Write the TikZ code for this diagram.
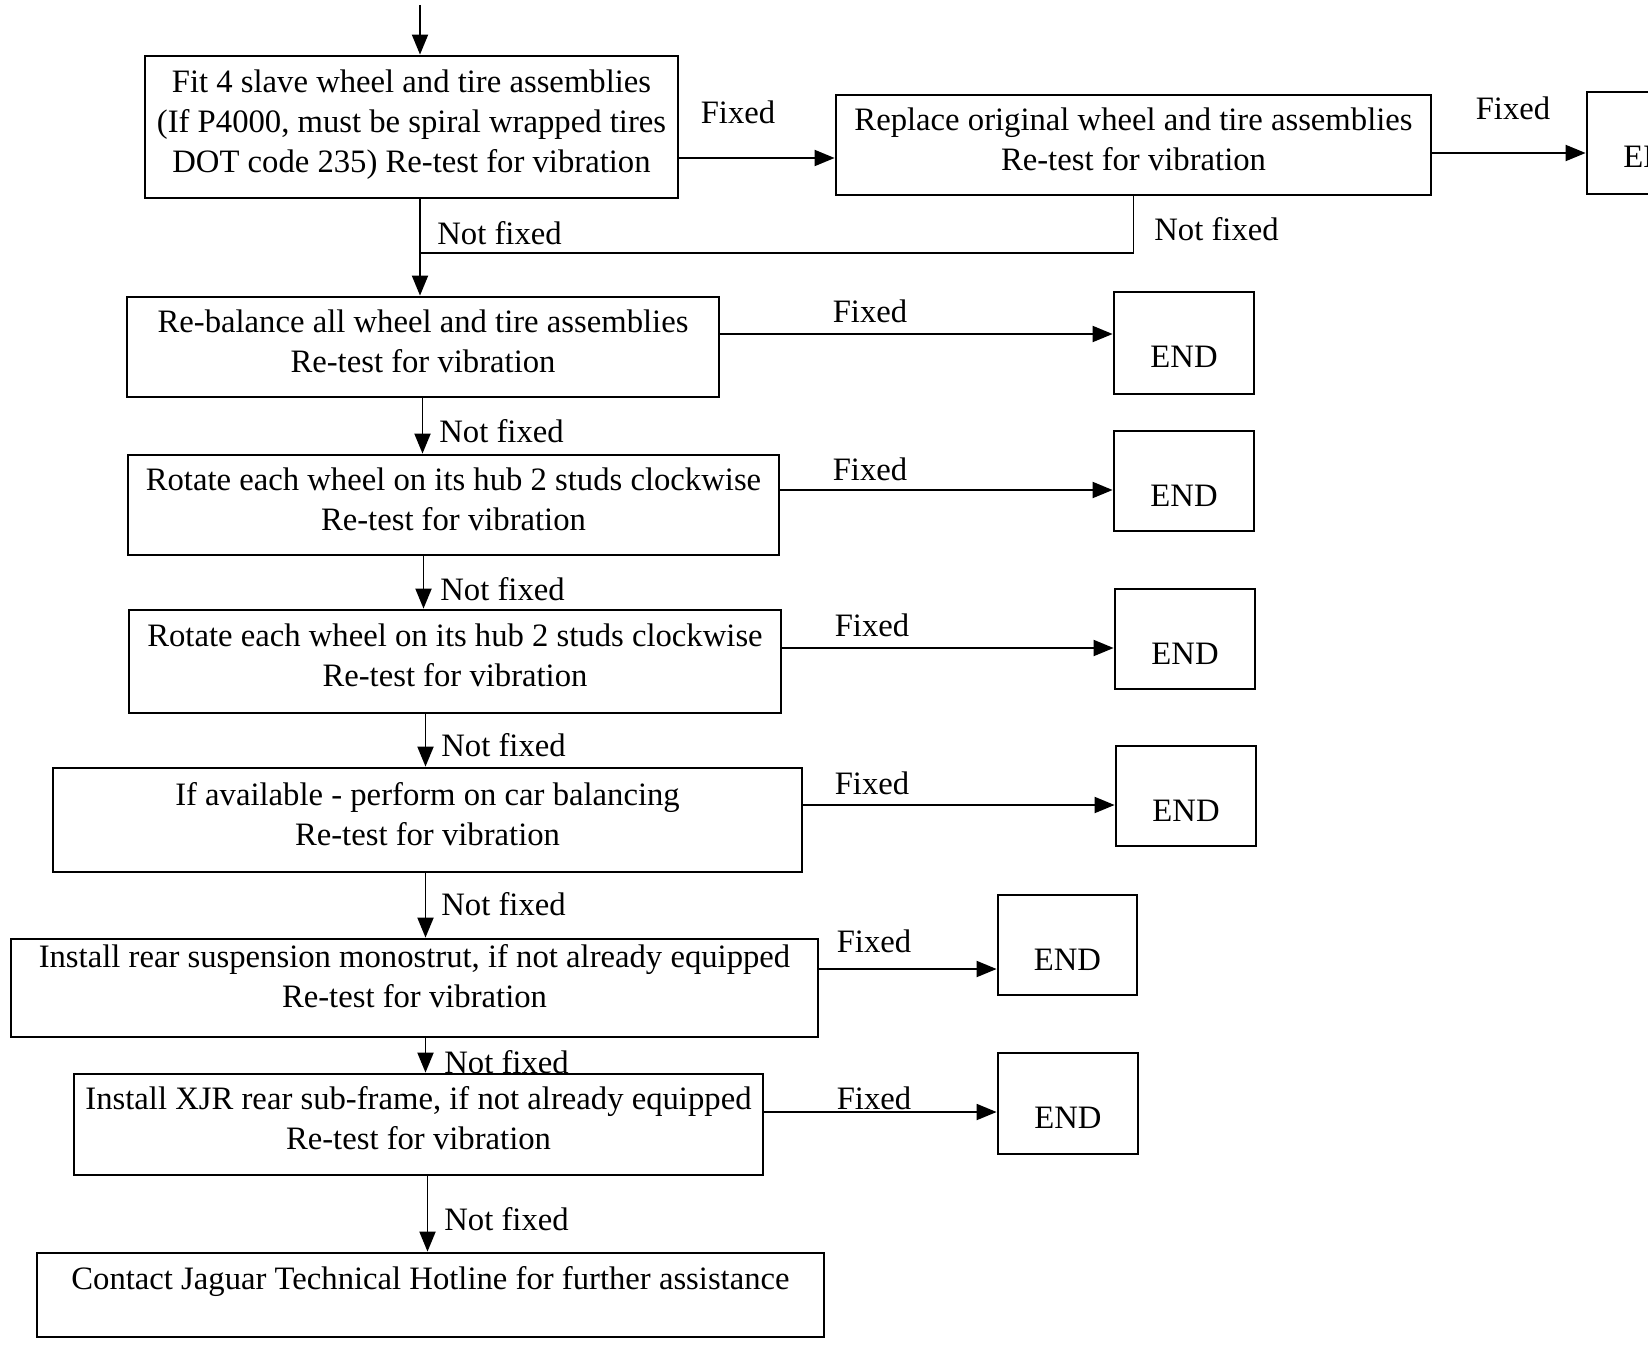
\documentclass[tikz,border=0pt]{standalone}
\usepackage{fontspec}
\setmainfont{Liberation Serif}
\usepackage{tikz}
\usetikzlibrary{positioning,arrows.meta}

\tikzset{
  wh/.style 2 args={minimum width=#1*0.02cm,minimum height=#2*0.02cm},
  stepbox/.style={draw,line width=1.6pt,align=center,inner sep=0pt,text depth=0.25cm},
  endbox/.style={stepbox,text height=1cm,text depth=0pt},
  lbl/.style={inner sep=0pt},
  flow/.style={line width=1.1pt,-{Triangle[length=0.4cm,width=0.32cm]}},
  link/.style={line width=1.1pt}
}

\begin{document}
\begin{tikzpicture}[x=0.02cm,y=-0.02cm,
    font=\fontsize{18.6}{22.8}\selectfont]
        \useasboundingbox (0,0) rectangle (1648,1348);
        \clip (0,0) rectangle (1648,1348);

        \node[stepbox,wh={533}{142}] (fit) at (411.5,127)
          {Fit 4 slave wheel and tire assemblies\\(If P4000, must be spiral wrapped tires\\DOT code 235) Re-test for vibration};
        \node[stepbox,wh={595}{100}] (repl) at (1133.5,145)
          {Replace original wheel and tire assemblies\\Re-test for vibration};
        \node[endbox,wh={140}{102}] (endA) at (1657,143) {END};
        \node[stepbox,wh={592}{100}] (rebal) at (423,347)
          {Re-balance all wheel and tire assemblies\\Re-test for vibration};
        \node[stepbox,wh={651}{100}] (rot1) at (453.5,505)
          {Rotate each wheel on its hub 2 studs clockwise\\Re-test for vibration};
        \node[stepbox,wh={652}{103}] (rot2) at (455,661.5)
          {Rotate each wheel on its hub 2 studs clockwise\\Re-test for vibration};
        \node[stepbox,wh={749}{104}] (avail) at (427.5,820)
          {If available - perform on car balancing\\Re-test for vibration};
        \node[stepbox,wh={807}{98},text depth=0.48cm] (mono) at (414.5,988)
          {Install rear suspension monostrut, if not already equipped\\Re-test for vibration};
        \node[stepbox,wh={689}{101}] (xjr) at (418.5,1124.5)
          {Install XJR rear sub-frame, if not already equipped\\Re-test for vibration};
        \node[stepbox,wh={787}{84},text depth=0.7cm] (hot) at (430.5,1295)
          {Contact Jaguar Technical Hotline for further assistance};

        \node[endbox,wh={140}{102}] (e1) at (1184,343) {END};
        \node[endbox,wh={140}{100}] (e2) at (1184,481) {END};
        \node[endbox,wh={140}{100}] (e3) at (1185,639) {END};
        \node[endbox,wh={140}{100}] (e4) at (1186,796) {END};
        \node[endbox,wh={139}{100}] (e5) at (1067.5,945) {END};
        \node[endbox,wh={140}{101}] (e6) at (1068,1103.5) {END};

        \coordinate (start) at (420,5);
        \coordinate (join) at (420,253);
        \draw[flow] (start) -- (start |- fit.north);
        \draw[flow] (fit.south -| start) -- (rebal.north -| start);
        \draw[link] (repl.south) |- (join);

        \foreach \a/\b/\x in {rebal/rot1/422.5,rot1/rot2/423.5,rot2/avail/425.5,
                              avail/mono/425.5,mono/xjr/425.5,xjr/hot/427.5}{
          \coordinate (sp) at (\x,0);
          \draw[flow] (\a.south -| sp) -- (\b.north -| sp);
        }
        \foreach \a/\b/\d in {fit/repl/-31,repl/endA/-8,rebal/e1/13,rot1/e2/15,
                              rot2/e3/13.5,avail/e4/15,mono/e5/19,xjr/e6/12.5}
          \draw[flow] ([yshift=\d*0.02cm]\a.east) -- ([yshift=\d*0.02cm]\a.east -| \b.west);

        \node[lbl] (fx0) at (738,112) {Fixed};
        \node[lbl] (fxA) at (1513,108) {Fixed};
        \node[lbl] (fx1) at (870,311) {Fixed};
        \node[lbl] (fx2) at (870,469) {Fixed};
        \node[lbl] (fx3) at (872,625) {Fixed};
        \node[lbl] (fx4) at (872,783) {Fixed};
        \node[lbl] (fx5) at (874,941) {Fixed};
        \node[lbl] (fx6) at (874,1098) {Fixed};

        \node[lbl,anchor=west] (nf0) at (437,233) {Not fixed};
        \node[lbl,anchor=west] (nfA) at (1154,229) {Not fixed};
        \node[lbl,anchor=west] (nf1) at (439,431) {Not fixed};
        \node[lbl,anchor=west] (nf2) at (440,589) {Not fixed};
        \node[lbl,anchor=west] (nf3) at (441,745) {Not fixed};
        \node[lbl,anchor=west] (nf4) at (441,904) {Not fixed};
        \node[lbl,anchor=west] (nf5) at (444,1062) {Not fixed};
        \node[lbl,anchor=west] (nf6) at (444,1219) {Not fixed};
      \end{tikzpicture}
\end{document}
